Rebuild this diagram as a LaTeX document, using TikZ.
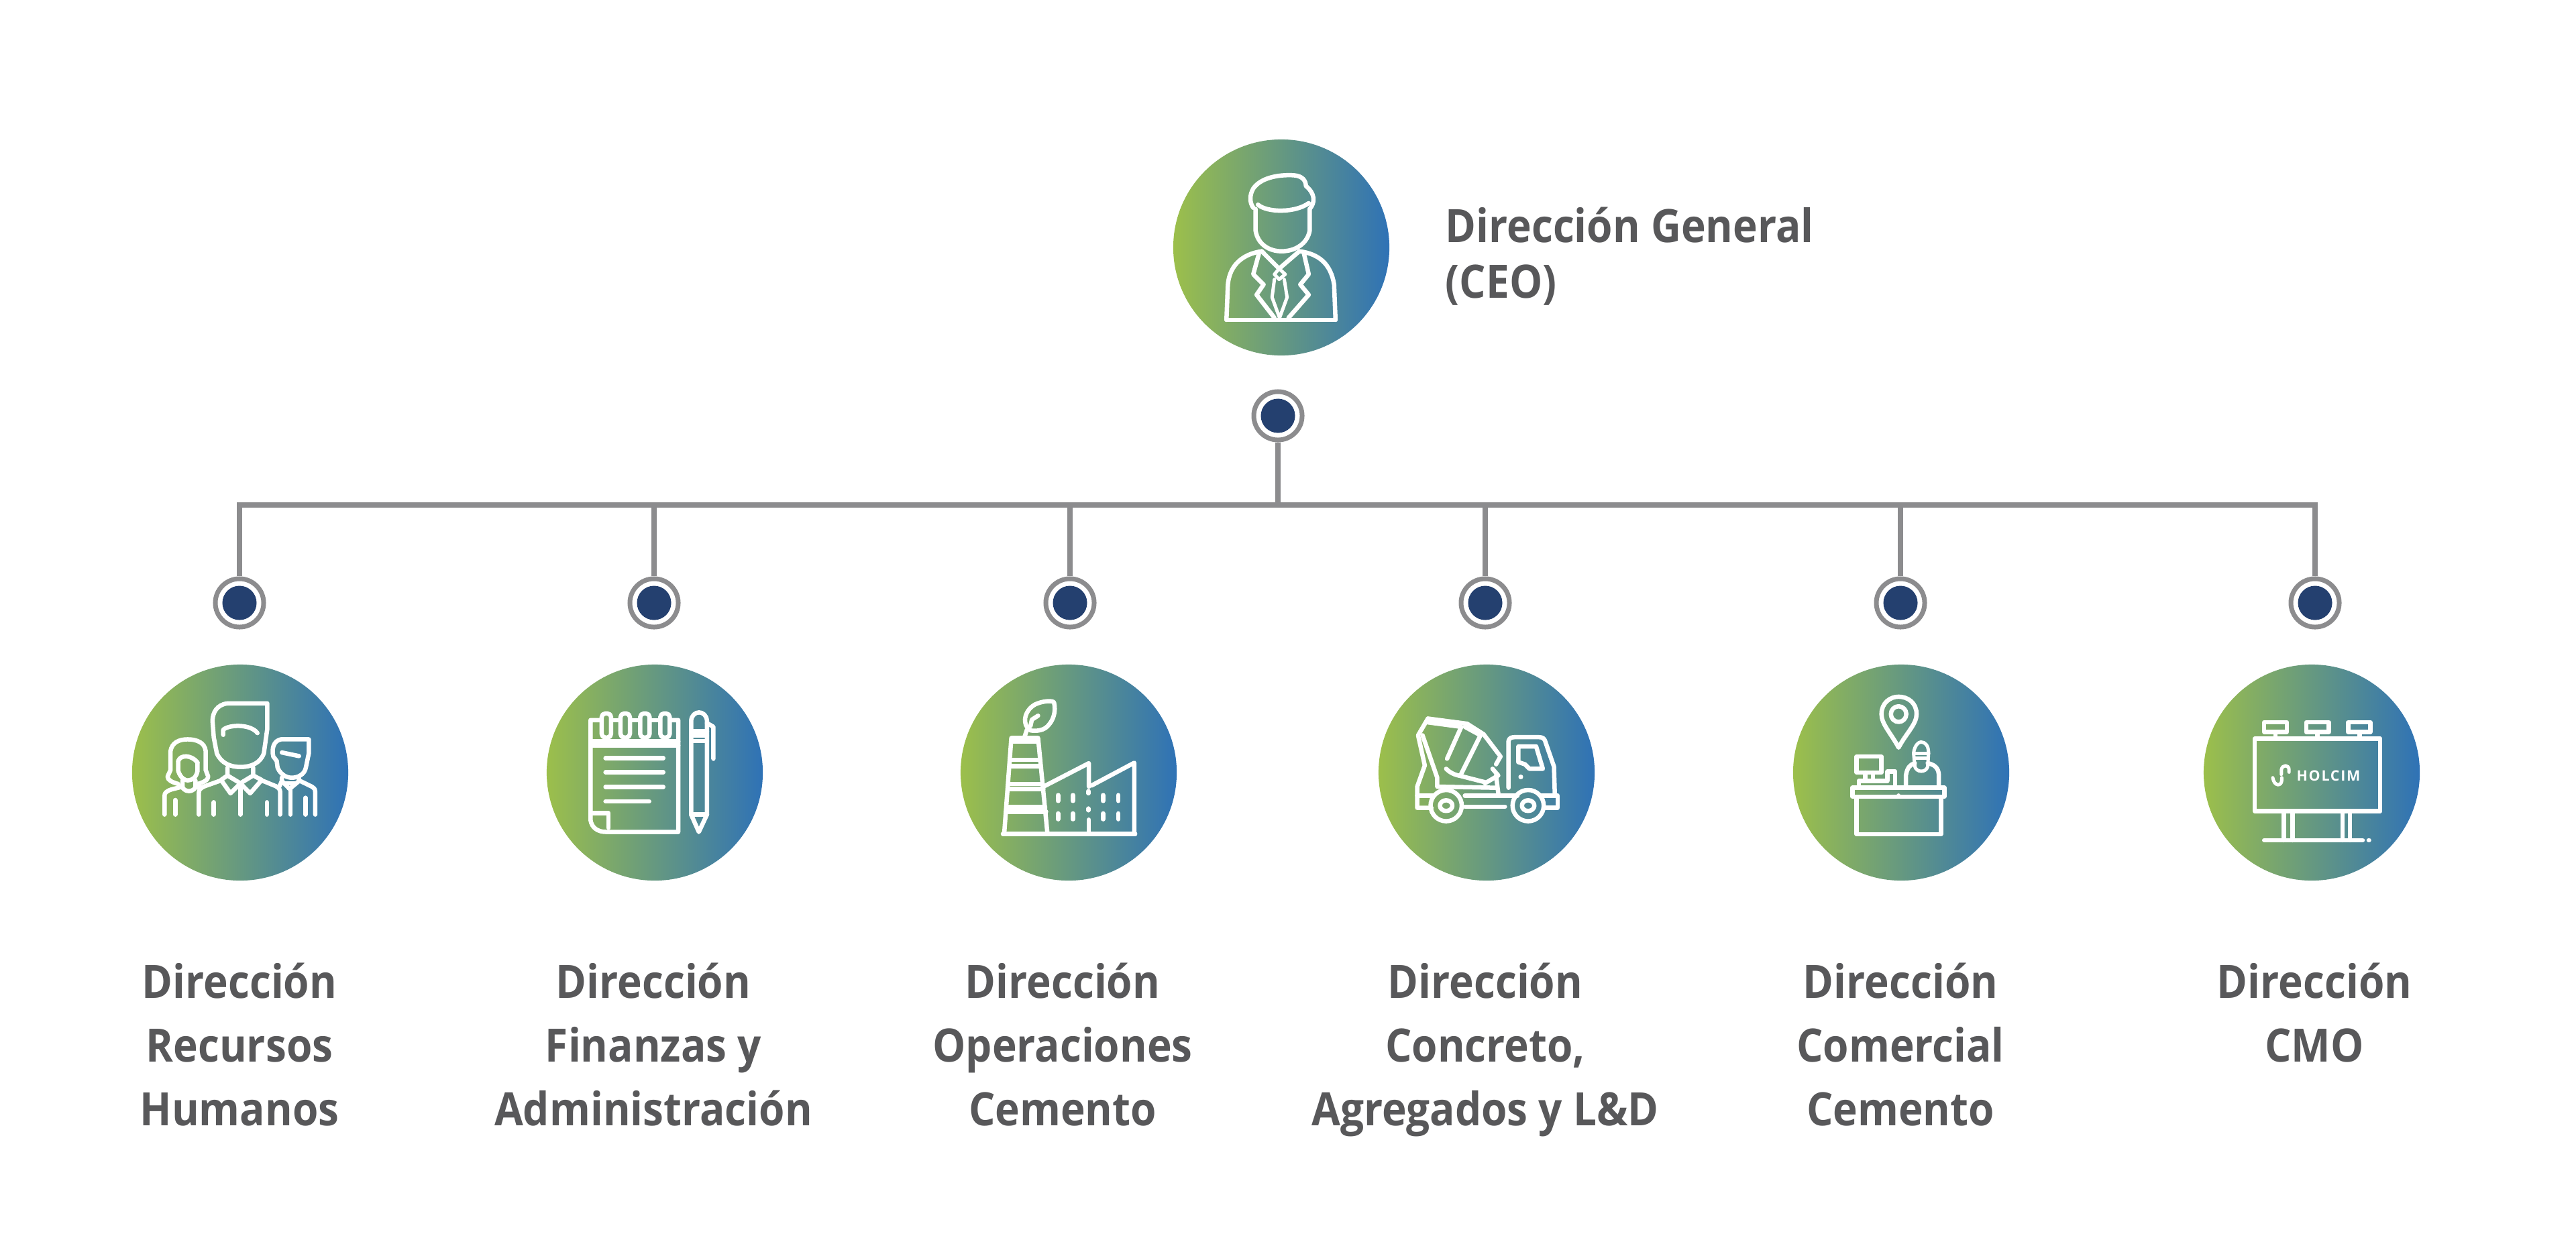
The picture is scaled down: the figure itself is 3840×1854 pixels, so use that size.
\documentclass[tikz,border=0pt]{standalone}
\usepackage{fontspec}
\setmainfont{Open Sans}[FakeStretch=0.905]
\newfontfamily\holcimfont{Open Sans}[LetterSpace=8]
\definecolor{labelgray}{HTML}{58585A}
\definecolor{linegray}{HTML}{8C8C8E}
\definecolor{navy}{HTML}{24406F}
\definecolor{gradL}{HTML}{9CBF4B}
\definecolor{gradM}{HTML}{5E9980}
\definecolor{gradR}{HTML}{2F72B6}
\tikzset{
  disc/.style={circle,inner sep=0pt,outer sep=0pt,minimum size=3.22cm,left color=gradL,middle color=gradM,right color=gradR,shading angle=90},
  ring/.style={circle,inner sep=0pt,draw=linegray,line width=0.07cm,fill=white,minimum size=0.72cm},
  core/.style={circle,inner sep=0pt,outer sep=0pt,fill=navy,minimum size=0.51cm},
  wire/.style={draw=linegray,line width=0.085cm},
  lbl/.style={text=labelgray,inner sep=0pt,align=center,anchor=north,font=\fontsize{19.5}{27}\selectfont\bfseries},
  ico/.style={draw=white,line width=0.065cm,line cap=round,line join=round},
  icofine/.style={draw=white,line width=0.05cm,line cap=round,line join=round},
  zA/.style={shift={(1700,180)},x=0.0070077cm,y=-0.0038197cm},
  zB/.style={shift={(170,960)},x=0.0063776cm,y=-0.0033333cm},
  zC/.style={shift={(1400,960)},x=0.0066313cm,y=-0.0033333cm},
  zD/.style={shift={(2640,960)},x=0.0063776cm,y=-0.0033333cm},
}
\begin{document}
\begin{tikzpicture}[x=0.01cm,y=-0.01cm]
\fill[white] (0,0) rectangle (3840,1854);
\useasboundingbox (0,0) rectangle (3840,1854);
% discs
\node[disc] (ceo) at (1910,369) {};
\node[disc] (d1) at (358,1152) {};
\node[disc] (d2) at (976,1152) {};
\node[disc] (d3) at (1593,1152) {};
\node[disc] (d4) at (2216,1152) {};
\node[disc] (d5) at (2834,1152) {};
\node[disc] (d6) at (3446,1152) {};
% junction dots
\node[ring] (r0) at (1905,620) {}; \node[core] (c0) at (r0) {};
\node[ring] (r1) at (357,899) {}; \node[core] (c1) at (r1) {};
\node[ring] (r2) at (975,899) {}; \node[core] (c2) at (r2) {};
\node[ring] (r3) at (1595,899) {}; \node[core] (c3) at (r3) {};
\node[ring] (r4) at (2214,899) {}; \node[core] (c4) at (r4) {};
\node[ring] (r5) at (2833,899) {}; \node[core] (c5) at (r5) {};
\node[ring] (r6) at (3451,899) {}; \node[core] (c6) at (r6) {};
% connectors
\coordinate (j0) at (1905,753);
\coordinate (j1) at (357,753);
\coordinate (j2) at (975,753);
\coordinate (j3) at (1595,753);
\coordinate (j4) at (2214,753);
\coordinate (j5) at (2833,753);
\coordinate (j6) at (3451,753);
\draw[wire,line cap=rect] (j1) -- (j6);
\draw[wire] (r0) -- (j0);
\draw[wire] (j1) -- (r1);
\draw[wire] (j2) -- (r2);
\draw[wire] (j3) -- (r3);
\draw[wire] (j4) -- (r4);
\draw[wire] (j5) -- (r5);
\draw[wire] (j6) -- (r6);
% labels
\node[lbl,anchor=north west,align=left] (t0) at (2154,308) {Dirección General\\[-3.3pt](CEO)};
\node[lbl] (t1) at (357,1435) {Dirección\\Recursos\\Humanos};
\node[lbl] (t2) at (974,1435) {Dirección\\Finanzas y\\Administración};
\node[lbl] (t3) at (1584,1435) {Dirección\\Operaciones\\Cemento};
\node[lbl] (t4) at (2214,1435) {Dirección\\Concreto,\\Agregados y L\&D};
\node[lbl] (t5) at (2833,1435) {Dirección\\Comercial\\Cemento};
\node[lbl] (t6) at (3450,1435) {Dirección\\CMO};
% CEO icon
\begin{scope}[zA,ico]
\draw (240,340) .. controls (232,320) and (232,290) .. (240,265) .. controls (255,225) and (290,210) .. (325,213) .. controls (345,215) and (352,235) .. (352,255) .. controls (372,285) and (372,320) .. (360,345);
\draw (250,328) .. controls (270,360) and (330,360) .. (358,322);
\draw (245,345) -- (245,430) .. controls (250,485) and (275,510) .. (300,510) .. controls (330,510) and (355,480) .. (360,430) -- (360,345);
\draw (183,778) -- (415,778);
\draw (183,778) -- (186,640) .. controls (190,560) and (220,520) .. (258,510);
\draw (415,778) -- (412,640) .. controls (405,560) and (380,520) .. (338,510);
\draw (252,520) -- (240,600) -- (262,640) -- (247,680) -- (285,770);
\draw (348,520) -- (358,600) -- (340,640) -- (358,680) -- (315,770);
\draw (258,510) -- (295,578) -- (338,510);
\draw[icofine] (285,600) -- (295,578) -- (308,600) -- (295,620) -- cycle;
\draw[icofine] (285,620) -- (280,690) -- (296,770) -- (312,690) -- (306,620);
\end{scope}
% people icon
\begin{scope}[zB,ico]
\draw (358,267) -- (265,267) .. controls (240,272) and (230,310) .. (230,345) -- (233,420) -- (240,490) .. controls (250,535) and (272,552) .. (295,552) .. controls (320,552) and (342,535) .. (350,490) -- (358,380) -- cycle;
\draw (255,408) -- (255,385) .. controls (270,360) and (320,360) .. (335,400);
\draw (265,555) -- (265,590) -- (250,610) -- (272,670) -- (295,625) -- (318,670) -- (345,610) -- (325,590) -- (325,555);
\draw (265,590) -- (295,625) -- (325,590);
\draw (250,612) -- (212,638) .. controls (200,648) and (198,655) .. (198,670) -- (198,765);
\draw (345,612) -- (378,638) .. controls (388,650) and (388,655) .. (388,670) -- (388,765);
\draw (295,625) -- (295,765);
\draw (233,710) -- (233,765);
\draw (357,710) -- (357,765);
% woman
\draw (150,628) .. controls (135,620) and (125,610) .. (125,595) -- (132,565) -- (132,480) .. controls (135,445) and (150,428) .. (172,428) .. controls (195,428) and (212,445) .. (214,480) -- (214,565) -- (220,595) .. controls (220,610) and (208,622) .. (195,628);
\draw (150,525) .. controls (155,495) and (182,498) .. (195,532);
\draw (150,525) -- (150,570) .. controls (155,600) and (165,612) .. (172,612) .. controls (182,612) and (192,600) .. (195,570) -- (195,532);
\draw (160,612) -- (160,645) .. controls (168,665) and (182,665) .. (190,645) -- (190,612);
\draw (160,640) -- (135,652) .. controls (122,660) and (118,668) .. (118,680) -- (118,765);
\draw (143,700) -- (143,765);
\draw (190,640) -- (205,645);
% small man
\draw (455,428) -- (390,428) .. controls (372,435) and (368,470) .. (372,505) -- (380,525) -- (382,555) .. controls (390,590) and (405,600) .. (415,600) .. controls (430,600) and (445,585) .. (448,555) -- (455,490) -- cycle;
\draw (392,487) -- (432,503);
\draw (392,600) -- (392,615) -- (410,650) -- (432,615) -- (432,598);
\draw (398,625) -- (424,625);
\draw (412,650) -- (412,765);
\draw (432,612) -- (462,640) .. controls (470,650) and (470,655) .. (470,665) -- (470,765);
\draw (392,615) -- (386,640);
\draw (447,690) -- (447,765);
\end{scope}
% notebook icon
\begin{scope}[zB,ico]
\draw (1135,342) -- (1113,342) -- (1113,790) .. controls (1116,825) and (1130,843) .. (1150,843) -- (1318,843) -- (1318,342) -- (1302,342);
\draw (1165,342) -- (1180,342);
\draw (1208,342) -- (1226,342);
\draw (1254,342) -- (1272,342);
\foreach \rx in {1150,1194,1240,1287} \draw[rounded corners=0.055cm] ({\rx-11},312) rectangle ({\rx+11},420);
\draw (1113,437) -- (1318,437);
\draw (1113,455) -- (1318,455);
\draw (1148,512) -- (1283,512);
\draw (1148,576) -- (1283,576);
\draw (1148,641) -- (1283,641);
\draw (1148,706) -- (1250,706);
\draw (1113,758) -- (1155,758) -- (1155,825);
\draw (1348,765) -- (1348,345) .. controls (1350,295) and (1383,295) .. (1385,345) -- (1385,765) -- (1366,843) -- cycle;
\draw (1348,765) -- (1385,765);
\draw (1352,392) -- (1385,392);
\draw (1352,412) -- (1385,412);
\draw (1352,436) -- (1385,436);
\draw (1385,355) -- (1400,372) -- (1400,515);
\end{scope}
% factory icon
\begin{scope}[zC,ico]
\draw (143,852) -- (440,852);
\draw (146,850) -- (162,422) -- (222,422) -- (243,850);
\draw (162,438) -- (222,438);
\draw (160,520) -- (226,520);
\draw (158,548) -- (226,548);
\draw (156,628) -- (232,628);
\draw (155,650) -- (234,650);
\draw (152,732) -- (238,732);
\draw (150,752) -- (240,752);
\draw (236,638) -- (336,535) -- (336,640);
\draw (336,788) -- (336,850);
\draw (342,635) -- (438,533) -- (438,850);
\foreach \wx in {267,300,368,402} {\draw (\wx,678) -- (\wx,704); \draw (\wx,760) -- (\wx,786);}
\draw (335,660) -- (335,670);
\draw (335,738) -- (335,746);
\draw (192,415) -- (197,385);
\draw (205,388) .. controls (185,365) and (190,300) .. (215,272) .. controls (232,255) and (258,252) .. (258,265) .. controls (262,300) and (258,345) .. (240,375) .. controls (230,390) and (215,392) .. (205,388);
\draw (205,368) -- (208,340) -- (222,322);
\end{scope}
% truck icon
\begin{scope}[zC,ico]
\draw (1097,335) -- (1185,358) -- (1222,405) -- (1260,505) -- (1250,540);
\draw (1097,335) -- (1075,410) -- (1090,545) -- (1073,640) -- (1073,735) -- (1105,735);
\draw (1097,352) -- (1172,372) -- (1140,515);
\draw (1180,372) -- (1215,410) -- (1170,590);
\draw (1085,410) -- (1118,600) -- (1118,640) -- (1250,645);
\draw (1138,560) .. controls (1150,585) and (1165,590) .. (1170,592) -- (1225,620);
\draw (1242,560) -- (1255,590) -- (1225,625);
\draw (1250,590) -- (1255,670);
\draw (1278,645) -- (1278,435) .. controls (1280,420) and (1285,418) .. (1295,418) -- (1345,418) .. controls (1355,418) and (1358,425) .. (1360,435) -- (1380,550) -- (1382,680);
\draw (1300,460) -- (1340,460) -- (1355,560) -- (1325,560) -- (1315,540) -- (1300,530) -- cycle;
\draw (1305,597) -- (1306,597);
\draw (1073,680) -- (1110,680);
\draw (1180,680) -- (1298,680);
\draw (1180,730) -- (1270,730);
\draw (1350,680) -- (1388,680) -- (1388,735) -- (1358,735);
\foreach \wc in {1138,1322} {\draw (\wc,725) ellipse [x radius=35,y radius=70]; \draw (\wc,725) ellipse [x radius=14,y radius=24];}
\end{scope}
% reception icon
\begin{scope}[zD,ico]
\draw (298,465) .. controls (280,400) and (258,360) .. (258,315) .. controls (258,265) and (278,237) .. (298,237) .. controls (320,237) and (340,265) .. (340,315) .. controls (340,360) and (316,400) .. (298,465) -- cycle;
\draw (298,315) ellipse [x radius=18,y radius=35];
\draw[icofine] (333,490) .. controls (335,455) and (345,440) .. (350,440) .. controls (360,440) and (368,455) .. (368,490) -- (366,550) .. controls (362,578) and (340,578) .. (336,550) -- cycle;
\draw[icofine] (333,490) -- (368,490);
\draw[icofine] (335,512) -- (366,512);
\draw (315,640) -- (315,590) .. controls (318,555) and (325,540) .. (336,535);
\draw (366,535) .. controls (380,540) and (392,555) .. (392,590) -- (392,640);
\draw (200,505) rectangle (258,577);
\draw (220,577) -- (220,610);
\draw (238,577) -- (238,610);
\draw (205,640) -- (205,614) -- (272,614);
\draw (272,610) -- (272,572) -- (290,572) -- (290,640);
\draw (190,645) rectangle (405,685);
\draw (298,680) -- (298,681);
\draw (200,688) -- (200,853) -- (397,853) -- (397,688);
\end{scope}
% billboard icon
\begin{scope}[zD,ico]
\draw (1130,425) rectangle (1423,750);
\draw (1152,352) rectangle (1205,395);
\draw (1250,352) rectangle (1303,395);
\draw (1348,352) rectangle (1400,395);
\draw (1178,395) -- (1178,425);
\draw (1276,395) -- (1276,425);
\draw (1375,395) -- (1375,425);
\draw (1198,755) -- (1198,880);
\draw (1218,755) -- (1218,880);
\draw (1335,755) -- (1335,880);
\draw (1352,755) -- (1352,880);
\draw (1152,880) -- (1382,880);
\draw (1396,880) -- (1397,880);
\draw[icofine] (1192,585) -- (1192,565) .. controls (1194,540) and (1210,540) .. (1210,565) -- (1210,575);
\draw[icofine] (1172,600) .. controls (1175,640) and (1193,640) .. (1193,610) -- (1193,600);
\node[text=white,inner sep=0pt,font=\holcimfont\fontsize{6.1}{7}\selectfont\bfseries] (holcim) at (1302,592) {HOLCIM};
\end{scope}
\end{tikzpicture}
\end{document}
